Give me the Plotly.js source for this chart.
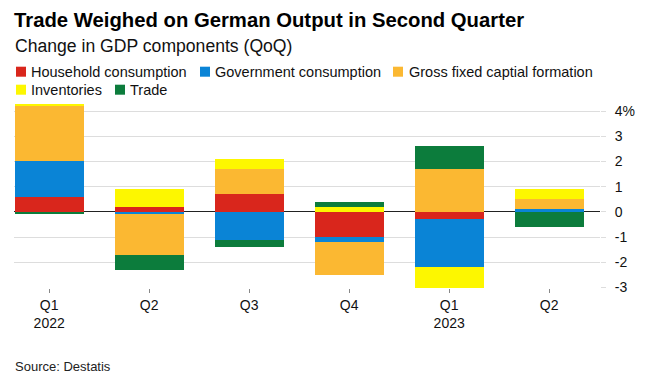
<!DOCTYPE html>
<html>
<head>
<meta charset="utf-8">
<script src="https://cdn.plot.ly/plotly-3.0.1.min.js"></script>
<style>
  html, body { margin: 0; padding: 0; background: #fff; }
  #chart { width: 648px; height: 384px; }
</style>
</head>
<body>
<div id="chart"></div>
<script>
// Data (contributions to QoQ GDP change, percentage points)
const quarters = ['2022 Q1', '2022 Q2', '2022 Q3', '2022 Q4', '2023 Q1', '2023 Q2'];
const tickLabels = ['Q1<br>2022', 'Q2', 'Q3', 'Q4', 'Q1<br>2023', 'Q2'];
const household   = [0.6,  0.2,  0.7, -1.0, -0.3, 0.0];
const government  = [1.4, -0.1, -1.1, -0.2, -1.9, 0.1];
const grossFixed  = [2.2, -1.6,  1.0, -1.3,  1.7, 0.4];
const inventories = [0.1,  0.7,  0.4,  0.2, -0.8, 0.4];
const trade       = [-0.1, -0.6, -0.3, 0.2,  0.9, -0.6];
const yTickVals = [-3, -2, -1, 0, 1, 2, 3, 4];
const yTickText = ['-3', '-2', '-1', '0', '1', '2', '3', '4%'];

const seriesNames = ['Household consumption', 'Government consumption', 'Gross fixed captial formation', 'Inventories', 'Trade'];
const seriesValues = [household, government, grossFixed, inventories, trade];
const seriesColors = ['#d9261c', '#0a84d6', '#fbb832', '#fdf700', '#0c7c3c'];

const FONT = 'Liberation Sans, Arial, Helvetica, sans-serif';

// Geometry (pixels)
const W = 648, H = 384;
const M = { l: 14, r: 48, t: 100.6, b: 95.8 };

const traces = seriesNames.map((name, i) => ({
  type: 'bar',
  name: name,
  x: quarters,
  y: seriesValues[i],
  width: 0.69,
  marker: { color: seriesColors[i], line: { width: 0 } },
  hoverinfo: 'x+y+name'
}));

// Legend built as text annotations + swatch shapes (positions in page pixels)
const legendItems = [
  { sx: 16,  tx: 31,  cy: 71.3 },
  { sx: 200, tx: 215, cy: 71.3 },
  { sx: 393, tx: 409, cy: 71.3 },
  { sx: 16,  tx: 31,  cy: 89.3 },
  { sx: 115, tx: 130, cy: 89.3 }
];

const legendShapes = legendItems.map((it, i) => ({
  type: 'rect',
  xref: 'paper', yref: 'paper',
  xsizemode: 'pixel', ysizemode: 'pixel',
  xanchor: 0, yanchor: 1,
  x0: it.sx - M.l, x1: it.sx - M.l + 10,
  y0: M.t - (it.cy + 5), y1: M.t - (it.cy - 5),
  fillcolor: seriesColors[i],
  line: { width: 0 },
  layer: 'above'
}));

const legendAnnots = legendItems.map((it, i) => ({
  text: seriesNames[i],
  xref: 'paper', yref: 'paper',
  x: 0, xanchor: 'left', xshift: it.tx - M.l - 2,
  y: 1, yanchor: 'middle', yshift: M.t - it.cy,
  showarrow: false,
  font: { family: FONT, size: 14.5, color: '#111' }
}));

const layout = {
  width: W,
  height: H,
  margin: { l: M.l, r: M.r, t: M.t, b: M.b, pad: 0 },
  paper_bgcolor: '#ffffff',
  plot_bgcolor: '#ffffff',
  barmode: 'relative',
  bargap: 0,
  font: { family: FONT, size: 14, color: '#111' },
  title: {
    text: '<b>Trade Weighed on German Output in Second Quarter</b>',
    font: { family: FONT, size: 20.3, color: '#000' },
    xref: 'container', yref: 'container',
    x: 14 / W, xanchor: 'left',
    y: 1 - 20 / H, yanchor: 'middle'
  },
  showlegend: false,
  xaxis: {
    type: 'category',
    range: [-0.352, 5.508],
    tickmode: 'array',
    tickvals: quarters,
    ticktext: tickLabels,
    ticks: 'outside',
    ticklen: 4,
    tickwidth: 1,
    tickcolor: '#888',
    showgrid: false,
    zeroline: false,
    showline: false,
    tickfont: { family: FONT, size: 14, color: '#111' },
    fixedrange: true
  },
  yaxis: {
    side: 'right',
    range: [-3.02, 4.4],
    tickmode: 'array',
    tickvals: yTickVals,
    ticktext: yTickText,
    ticks: 'outside',
    ticklen: 5,
    tickcolor: '#dddddd',
    ticklabelstandoff: 6,
    showgrid: true,
    gridcolor: '#dddddd',
    gridwidth: 1,
    zeroline: true,
    zerolinecolor: '#222',
    zerolinewidth: 1,
    showline: false,
    tickfont: { family: FONT, size: 14, color: '#111' },
    fixedrange: true
  },
  shapes: legendShapes,
  annotations: [
    {
      text: 'Change in GDP components (QoQ)',
      xref: 'paper', yref: 'paper',
      x: 0, xanchor: 'left', xshift: -1,
      y: 1, yanchor: 'middle', yshift: M.t - 46,
      showarrow: false,
      font: { family: FONT, size: 17.6, color: '#111' }
    },
    {
      text: 'Source: Destatis',
      xref: 'paper', yref: 'paper',
      x: 0, xanchor: 'left', xshift: -1,
      y: 0, yanchor: 'middle', yshift: -(366.7 - (H - M.b)),
      showarrow: false,
      font: { family: FONT, size: 13, color: '#222' }
    }
  ].concat(legendAnnots)
};

Plotly.newPlot('chart', traces, layout, { displayModeBar: false, responsive: false });
</script>
</body>
</html>
